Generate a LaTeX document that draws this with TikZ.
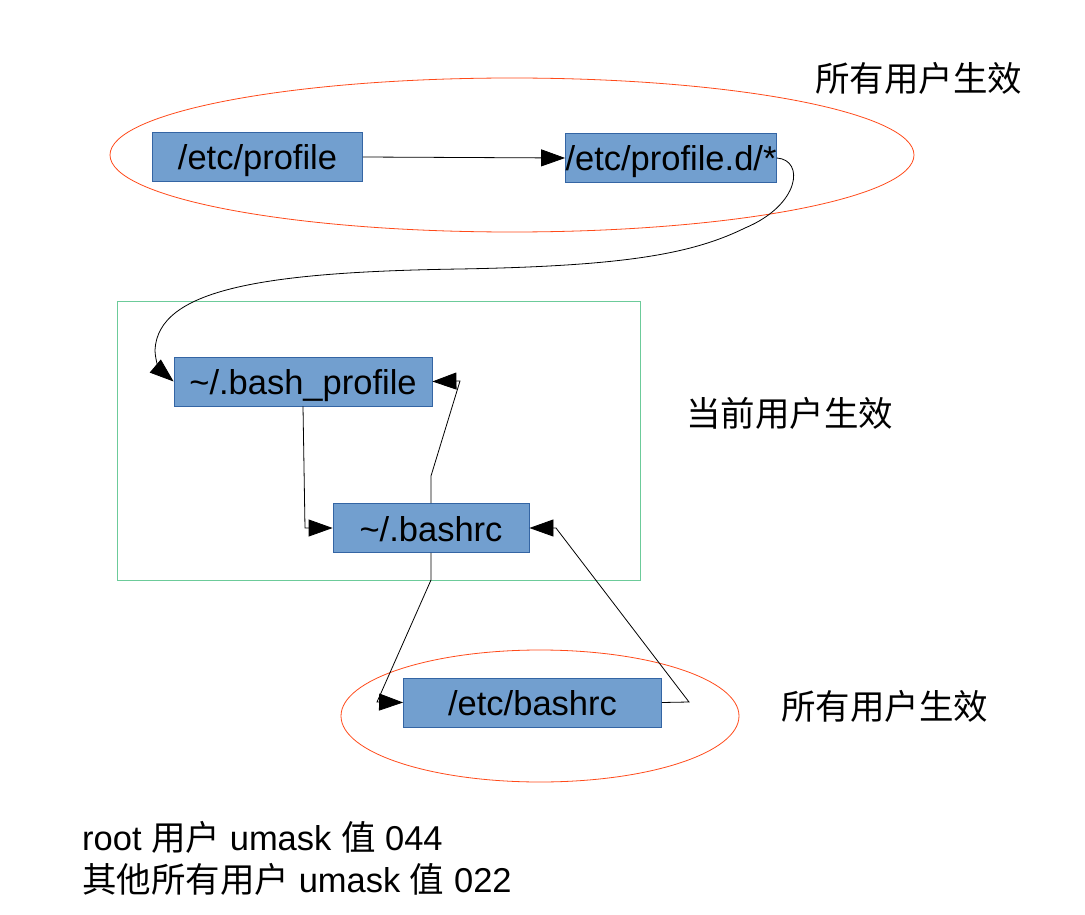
\documentclass[tikz,border=0pt]{standalone}
\usepackage{fontspec}
\setmainfont{Liberation Sans}
\newfontfamily\cjk{Noto Sans CJK SC}
\newcommand{\zh}[1]{{\cjk #1}}
\usetikzlibrary{arrows.meta}
\definecolor{boxfill}{HTML}{729FCF}
\definecolor{boxline}{HTML}{3465A4}
\definecolor{ovalred}{HTML}{FF4A1A}
\definecolor{frame}{HTML}{6CCB9A}

\begin{document}
\begin{tikzpicture}[x=1pt, y=-1pt,
    file/.style={draw=boxline, fill=boxfill, line width=0.8pt, inner sep=0pt, minimum height=49pt, text height=32pt, text depth=6pt, font=\fontsize{34.5}{40}\selectfont},
    note/.style={inner sep=0pt, font=\fontsize{34.5}{40}\selectfont},
    arr/.style={-{Triangle[length=24pt, width=17pt]}, line width=0.8pt}]
    \useasboundingbox (0,0) rectangle (1085,915);
    % scopes of the settings
    \draw[ovalred, line width=0.8pt] (512,155) ellipse [x radius=402, y radius=77];
    \draw[frame, line width=0.8pt] (117,301) rectangle (640,580);
    \draw[ovalred, line width=0.8pt] (540,716) ellipse [x radius=199, y radius=66];
    \path (257.5,157) node[file, minimum width=210pt](ep) {/etc/profile} (671,158) node[file, minimum width=210pt](pd) {/etc/profile.d/*} (303,381.5) node[file, minimum width=258pt](bp) {\textasciitilde/.bash\_profile} (431,528) node[file, minimum width=196pt](br) {\textasciitilde/.bashrc} (532.5,702.5) node[file, minimum width=258pt](eb) {/etc/bashrc};
    \path (815,78) node[note, anchor=west](all1) {\zh{所有用户生效}} (686,413) node[note, anchor=west](cur) {\zh{当前用户生效}} (781,706) node[note, anchor=west](all2) {\zh{所有用户生效}};
    \path (82,850) node[note, anchor=base west](um1) {root \zh{用户} umask \zh{值} 044} (82,892) node[note, anchor=base west](um2) {\zh{其他所有用户} umask \zh{值} 022};
    \draw[arr] (ep.east) -- (pd.west);
    \draw[arr] (pd.east) .. controls (805,160) and (800,205) .. (745,228) .. controls (690,255) and (620,266) .. (460,269) .. controls (260,272) and (158,290) .. (155,350) .. controls (155,360) and (160,370) .. (bp.west);
    \draw[arr] (bp.south) -- (305,528) -- (br.west);
    \draw[arr] (br.north) -- (431,476) -- (460,381) -- (bp.east);
    \draw[arr] (br.south) -- (431,580) -- (377,702) -- (eb.west);
    \draw[arr] (eb.east) -- (689,702) -- (556,528) -- (br.east);
\end{tikzpicture}
\end{document}
